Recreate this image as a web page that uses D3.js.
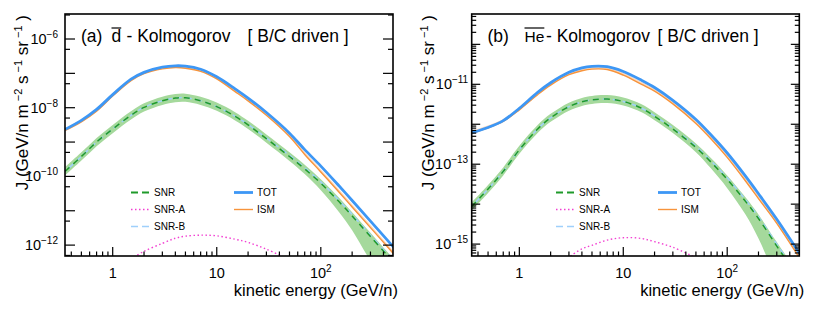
<!DOCTYPE html>
<html>
<head>
<meta charset="utf-8">
<script src="https://cdn.jsdelivr.net/npm/d3@7"></script>
<style>
  body { margin: 0; background: #fff; }
  text { font-family: "Liberation Sans", Arial, Helvetica, sans-serif; fill: #000; }
</style>
</head>
<body>
<div class="canvas"></div>
<script>
// Energy grid (GeV/n) shared by the main curves of both panels
const energy = [0.35, 0.5, 0.7, 1, 1.5, 2, 3, 4, 5, 7, 10, 15, 20, 30, 50, 70, 100, 150, 200, 300, 500];

// Panel (a): antideuteron flux, values are log10 J
const totD    = [-8.63, -8.37, -8.05, -7.62, -7.17, -6.97, -6.82, -6.78, -6.79, -6.88, -7.10, -7.45, -7.72, -8.14, -8.74, -9.22, -9.70, -10.28, -10.70, -11.30, -12.06];
const ismD    = [-8.66, -8.41, -8.10, -7.66, -7.21, -7.01, -6.87, -6.83, -6.85, -6.94, -7.16, -7.53, -7.80, -8.22, -8.84, -9.36, -9.87, -10.46, -10.89, -11.49, -12.25];
const snrD    = [-9.85, -9.42, -9.00, -8.62, -8.22, -7.99, -7.80, -7.72, -7.71, -7.80, -7.97, -8.25, -8.50, -8.90, -9.42, -9.78, -10.20, -10.74, -11.15, -11.75, -12.50];
const snrBD   = [-9.85, -9.42, -9.00, -8.62, -8.22, -7.99, -7.80, -7.72, -7.71, -7.80, -7.97, -8.25, -8.49, -8.88, -9.39, -9.75, -10.16, -10.70, -11.11, -11.71, -12.46];
const snrLoD  = [-9.97, -9.54, -9.12, -8.74, -8.34, -8.11, -7.92, -7.84, -7.83, -7.92, -8.09, -8.37, -8.62, -9.02, -9.55, -9.93, -10.40, -11.04, -11.57, -12.45, -13.30];
const snrHiD  = [-9.73, -9.30, -8.88, -8.50, -8.10, -7.87, -7.68, -7.60, -7.59, -7.68, -7.85, -8.13, -8.38, -8.78, -9.30, -9.66, -10.08, -10.62, -11.04, -11.64, -12.40];
const snrAEnergyD = [1.6, 2, 3, 4, 5, 7, 10, 15, 20, 30, 45];
const snrAD       = [-12.35, -12.18, -11.95, -11.80, -11.74, -11.71, -11.73, -11.83, -11.92, -12.12, -12.36];

// Panel (b): antihelium flux, values are log10 J
const totHe   = [-12.21, -12.08, -11.91, -11.60, -11.20, -10.96, -10.70, -10.59, -10.55, -10.56, -10.68, -10.90, -11.08, -11.40, -11.88, -12.27, -12.72, -13.30, -13.74, -14.38, -15.25];
const ismHe   = [-12.22, -12.09, -11.93, -11.64, -11.26, -11.02, -10.76, -10.66, -10.62, -10.63, -10.77, -11.00, -11.17, -11.49, -11.98, -12.37, -12.83, -13.42, -13.86, -14.48, -15.36];
const snrHe   = [-14.05, -13.62, -13.18, -12.64, -12.12, -11.84, -11.56, -11.44, -11.39, -11.37, -11.43, -11.60, -11.80, -12.12, -12.58, -12.95, -13.38, -13.93, -14.36, -15.05, -15.90];
const snrBHe  = [-14.05, -13.62, -13.18, -12.64, -12.12, -11.84, -11.56, -11.44, -11.39, -11.37, -11.43, -11.60, -11.79, -12.10, -12.55, -12.92, -13.34, -13.89, -14.32, -15.00, -15.85];
const snrLoHe = [-14.15, -13.72, -13.28, -12.74, -12.22, -11.94, -11.66, -11.54, -11.49, -11.47, -11.53, -11.70, -11.90, -12.22, -12.70, -13.11, -13.60, -14.26, -14.86, -15.85, -16.70];
const snrHiHe = [-13.95, -13.52, -13.08, -12.54, -12.02, -11.74, -11.46, -11.34, -11.29, -11.27, -11.33, -11.50, -11.70, -12.02, -12.48, -12.85, -13.28, -13.83, -14.26, -14.95, -15.80];
const snrAEnergyHe = [3.1, 4, 5, 7, 10, 15, 20, 30, 48];
const snrAHe       = [-15.30, -15.12, -15.03, -14.90, -14.84, -14.86, -14.94, -15.08, -15.32];

// Tick labels
const xTickLabels = [{ v: 1, base: "1", sup: "" }, { v: 10, base: "10", sup: "" }, { v: 100, base: "10", sup: "2" }];
const yLabelExpD  = [-6, -8, -10, -12];
const yLabelExpHe = [-11, -13, -15];

const colours = { tot: "#3d97f5", ism: "#f7943c", ismPale: "#fbd9bf", snr: "#1f9a2a", band: "#a5d99c", snrA: "#f23fd2", snrB: "#9fd0fb" };

const svg = d3.select(".canvas")
    .append("svg")
    .attr("width", 830)
    .attr("height", 311);

function drawPanel(opt) {
    const { left, right, top, bottom, yDomain, id } = opt;
    const x = d3.scaleLog().domain([0.348, 494]).range([left, right]);
    const y = d3.scaleLog().domain(yDomain).range([bottom, top]);
    const pv = v => y(Math.pow(10, v));
    const smooth = d3.curveCatmullRom.alpha(0.5);

    const clipId = "clip-" + id;
    svg.append("clipPath").attr("id", clipId)
        .append("rect").attr("x", left).attr("y", top)
        .attr("width", right - left).attr("height", bottom - top);
    const plot = svg.append("g").attr("clip-path", `url(#${clipId})`);

    const line = d3.line().curve(smooth).x(d => x(d[0])).y(d => pv(d[1]));
    const zip = (es, vs) => es.map((e, i) => [e, vs[i]]);

    // SNR uncertainty band
    const area = d3.area().curve(smooth)
        .x(d => x(d.e)).y0(d => pv(d.lo)).y1(d => pv(d.hi));
    plot.append("path")
        .datum(energy.map((e, i) => ({ e: e, lo: opt.snrLo[i], hi: opt.snrHi[i] })))
        .attr("d", area).attr("fill", colours.band).attr("stroke", "none");

    plot.append("path").datum(zip(energy, opt.snrB)).attr("d", line)
        .attr("fill", "none").attr("stroke", colours.snrB).attr("stroke-width", 1.5)
        .attr("stroke-dasharray", "6,4").attr("stroke-dashoffset", 5);
    plot.append("path").datum(zip(energy, opt.snr)).attr("d", line)
        .attr("fill", "none").attr("stroke", colours.snr).attr("stroke-width", 1.5)
        .attr("stroke-dasharray", "6,5");
    plot.append("path").datum(zip(opt.snrAE, opt.snrA)).attr("d", line)
        .attr("fill", "none").attr("stroke", colours.snrA).attr("stroke-width", 1.4)
        .attr("stroke-dasharray", "1.5,2.5");
    plot.append("path").datum(zip(energy, opt.ism.map(v => v + 0.03))).attr("d", line)
        .attr("fill", "none").attr("stroke", colours.ismPale).attr("stroke-width", 2.2);
    plot.append("path").datum(zip(energy, opt.ism)).attr("d", line)
        .attr("fill", "none").attr("stroke", colours.ism).attr("stroke-width", 1.4);
    plot.append("path").datum(zip(energy, opt.tot)).attr("d", line)
        .attr("fill", "none").attr("stroke", colours.tot).attr("stroke-width", 2.8);

    // Frame
    svg.append("rect").attr("x", left).attr("y", top)
        .attr("width", right - left).attr("height", bottom - top)
        .attr("fill", "none").attr("stroke", "#000").attr("stroke-width", 1.6);

    // X ticks (inside, bottom only)
    const g = svg.append("g").attr("stroke", "#000").attr("stroke-width", 1.2);
    const xMinor = [];
    [0.1, 1, 10, 100].forEach(d => { for (let k = 2; k <= 9; k++) xMinor.push(d * k); });
    xMinor.filter(v => x(v) > left && x(v) < right).forEach(v => {
        g.append("line").attr("x1", x(v)).attr("x2", x(v)).attr("y1", bottom).attr("y2", bottom - 4.5);
    });
    [1, 10, 100].forEach(v => {
        g.append("line").attr("x1", x(v)).attr("x2", x(v)).attr("y1", bottom).attr("y2", bottom - 9);
    });

    // Y ticks (both sides)
    const yMajor = d3.range(Math.ceil(Math.log10(yDomain[0])), Math.floor(Math.log10(yDomain[1])) + 1);
    const yMinor = [];
    yMajor.concat([yMajor[0] - 1]).forEach(p => opt.minorSteps.forEach(k => yMinor.push(k * Math.pow(10, p))));
    const tick = (yy, len) => {
        g.append("line").attr("x1", left).attr("x2", left + len).attr("y1", yy).attr("y2", yy);
        g.append("line").attr("x1", right).attr("x2", right - len).attr("y1", yy).attr("y2", yy);
    };
    yMinor.filter(v => y(v) > top && y(v) < bottom).forEach(v => tick(y(v), opt.minorLen));
    yMajor.forEach(p => tick(y(Math.pow(10, p)), opt.majorLen));

    // X tick labels
    xTickLabels.forEach(t => {
        const txt = svg.append("text").attr("x", x(t.v)).attr("y", bottom + 22)
            .attr("text-anchor", "middle").attr("font-size", 14.5);
        txt.append("tspan").text(t.base);
        if (t.sup) txt.append("tspan").attr("dy", -6).attr("font-size", 10).text(t.sup);
    });
    // Y tick labels
    opt.yLabelExp.forEach(p => {
        const txt = svg.append("text").attr("x", left - opt.labelGap).attr("y", y(Math.pow(10, p)) + 5)
            .attr("text-anchor", "end").attr("font-size", 14.5);
        txt.append("tspan").text("10");
        txt.append("tspan").attr("dy", -6).attr("font-size", 10).text(String(p).replace("-", "\u2212"));
    });

    // Axis titles
    svg.append("text").attr("x", right + 5).attr("y", bottom + 40)
        .attr("text-anchor", "end").attr("font-size", 16.5).text("kinetic energy (GeV/n)");
    const yt = svg.append("text")
        .attr("transform", `translate(${opt.yTitleX}, ${top + 1}) rotate(-90)`)
        .attr("text-anchor", "end").attr("font-size", 17);
    yt.append("tspan").text("J (GeV/n m");
    yt.append("tspan").attr("dy", -6.5).attr("font-size", 11).text(" \u22122");
    yt.append("tspan").attr("dy", 6.5).text(" s");
    yt.append("tspan").attr("dy", -6.5).attr("font-size", 11).text(" \u22121");
    yt.append("tspan").attr("dy", 6.5).text(" sr");
    yt.append("tspan").attr("dy", -6.5).attr("font-size", 11).text(" \u22121");
    yt.append("tspan").attr("dy", 6.5).text(" )");

    // Title with an overlined particle name
    const ty = top + 28;
    svg.append("text").attr("x", opt.titleX[0]).attr("y", ty).attr("font-size", 17.5).text(opt.label);
    const part = svg.append("text").attr("x", opt.titleX[1]).attr("y", ty)
        .attr("font-size", opt.particleSize).text(opt.particle);
    const w = part.node().getComputedTextLength();
    svg.append("line").attr("x1", opt.titleX[1]).attr("x2", opt.titleX[1] + w)
        .attr("y1", ty - 14).attr("y2", ty - 14).attr("stroke", "#000").attr("stroke-width", 1.2);
    svg.append("text").attr("x", opt.titleX[2]).attr("y", ty).attr("font-size", 17.5).text("- Kolmogorov");
    svg.append("text").attr("x", opt.titleX[3]).attr("y", ty).attr("font-size", 17.5).text("[ B/C driven ]");

    // Legend
    const lg = svg.append("g");
    const entry = (lx, ly, name, style) => {
        const l = lg.append("line").attr("x1", lx).attr("x2", lx + 19).attr("y1", ly).attr("y2", ly)
            .attr("stroke", style.c).attr("stroke-width", style.w);
        if (style.dash) l.attr("stroke-dasharray", style.dash);
        lg.append("text").attr("x", lx + 23).attr("y", ly + 3.5).attr("font-size", 10).text(name);
    };
    const [l1, l2] = opt.legendX;
    entry(l1, 192.5, "SNR", { c: colours.snr, w: 1.8, dash: "7,4" });
    entry(l1, 209.5, "SNR-A", { c: colours.snrA, w: 1.4, dash: "1.5,2.5" });
    entry(l1, 226.5, "SNR-B", { c: colours.snrB, w: 1.5, dash: "7,4" });
    entry(l2, 192.5, "TOT", { c: colours.tot, w: 2.8 });
    entry(l2, 209.5, "ISM", { c: colours.ism, w: 1.4 });
}

drawPanel({
    id: "a", left: 65, right: 393, top: 14, bottom: 256,
    yDomain: [Math.pow(10, -12.317), Math.pow(10, -5.272)],
    tot: totD, ism: ismD, snr: snrD, snrB: snrBD, snrLo: snrLoD, snrHi: snrHiD,
    snrAE: snrAEnergyD, snrA: snrAD,
    minorSteps: [5], minorLen: 5, majorLen: 10, labelGap: 7,
    yLabelExp: yLabelExpD, yTitleX: 28,
    label: "(a)", particle: "d", particleSize: 17.5, titleX: [81, 111.5, 126.5, 247.5],
    legendX: [131, 234]
});

drawPanel({
    id: "b", left: 471.7, right: 799.3, top: 14, bottom: 256,
    yDomain: [Math.pow(10, -15.298), Math.pow(10, -9.24)],
    tot: totHe, ism: ismHe, snr: snrHe, snrB: snrBHe, snrLo: snrLoHe, snrHi: snrHiHe,
    snrAE: snrAEnergyHe, snrA: snrAHe,
    minorSteps: [2, 3, 4, 5, 6, 7, 8, 9], minorLen: 4.5, majorLen: 8.5, labelGap: 3.5,
    yLabelExp: yLabelExpHe, yTitleX: 434,
    label: "(b)", particle: "He", particleSize: 15.5, titleX: [487.5, 524.5, 546, 657.5],
    legendX: [556, 658]
});
</script>
</body>
</html>
